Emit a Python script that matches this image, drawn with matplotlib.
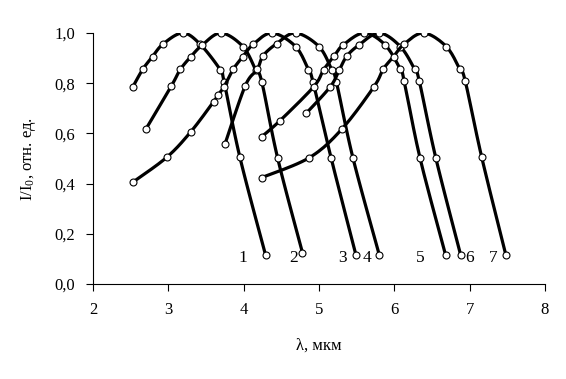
import numpy as np
import matplotlib.pyplot as plt

# wavelength (um) and relative intensity for curves 1..7
lam1 = [2.53, 2.66, 2.79, 2.93, 3.19, 3.42, 3.69, 3.74, 3.95, 4.29]
int1 = [0.786, 0.855, 0.906, 0.956, 1.0, 0.956, 0.853, 0.806, 0.505, 0.116]

lam2 = [2.70, 3.04, 3.16, 3.30, 3.45, 3.70, 3.99, 4.16, 4.24, 4.45, 4.78]
int2 = [0.616, 0.789, 0.855, 0.906, 0.952, 1.0, 0.946, 0.853, 0.806, 0.503, 0.125]

lam3 = [2.53, 2.98, 3.30, 3.60, 3.66, 3.74, 3.86, 3.99, 4.13, 4.38, 4.69, 4.86, 4.92, 5.16, 5.49]
int3 = [0.406, 0.505, 0.607, 0.726, 0.753, 0.786, 0.855, 0.906, 0.956, 1.0, 0.946, 0.853, 0.806, 0.503, 0.116]

lam4 = [3.75, 4.02, 4.18, 4.26, 4.44, 4.69, 5.00, 5.17, 5.23, 5.45, 5.80]
int4 = [0.556, 0.789, 0.855, 0.91, 0.958, 1.0, 0.946, 0.853, 0.806, 0.503, 0.116]

lam5 = [4.24, 4.48, 4.93, 5.06, 5.20, 5.32, 5.60, 5.88, 6.08, 6.13, 6.34, 6.68]
int5 = [0.587, 0.650, 0.786, 0.853, 0.908, 0.952, 1.0, 0.952, 0.855, 0.81, 0.503, 0.116]

lam6 = [4.83, 5.15, 5.27, 5.37, 5.53, 5.80, 6.08, 6.27, 6.33, 6.55, 6.88]
int6 = [0.68, 0.786, 0.853, 0.908, 0.952, 1.0, 0.946, 0.855, 0.81, 0.503, 0.116]

lam7 = [4.24, 4.87, 5.30, 5.73, 5.85, 5.99, 6.13, 6.39, 6.69, 6.87, 6.94, 7.16, 7.48]
int7 = [0.424, 0.503, 0.616, 0.786, 0.855, 0.906, 0.956, 1.0, 0.946, 0.855, 0.81, 0.505, 0.116]

curves = [(lam1, int1), (lam2, int2), (lam3, int3), (lam4, int4),
          (lam5, int5), (lam6, int6), (lam7, int7)]

# curve number labels near the ends
lab_text = ['1', '2', '3', '4', '5', '6', '7']
lab_x = [3.99, 4.66, 5.31, 5.64, 6.34, 7.00, 7.31]
lab_y = [0.105] * 7

xticks = [2, 3, 4, 5, 6, 7, 8]
yticks = [0.0, 0.2, 0.4, 0.6, 0.8, 1.0]
ytick_labels = ['0,0', '0,2', '0,4', '0,6', '0,8', '1,0']


def plotsetting():
    """
    font settings.
    """
    plt.rcParams.update({'font.size': 11.5,
                         'font.family': ['Liberation Serif', 'DejaVu Serif'],
                         'mathtext.fontset': 'custom',
                         'mathtext.rm': 'Liberation Serif',
                         'mathtext.it': 'Liberation Serif'})


def smooth(x, y, n=12):
    """
    Catmull-Rom path through the points (like a smoothed line in a spreadsheet),
    only used for drawing the line, markers stay on the data.
    """
    p = np.column_stack([x, y]).astype(float)
    # stretch y so the smoothing acts in roughly screen-like units
    s = np.array([1.0, 2.0])
    p = p * s
    p = np.vstack([p[0], p, p[-1]])
    out = []
    t = np.linspace(0, 1, n, endpoint=False)[:, None]
    for i in range(1, len(p) - 2):
        p0, p1, p2, p3 = p[i-1], p[i], p[i+1], p[i+2]
        seg = 0.5*((2*p1) + (-p0 + p2)*t + (2*p0 - 5*p1 + 4*p2 - p3)*t**2
                   + (-p0 + 3*p1 - 3*p2 + p3)*t**3)
        out.append(seg)
    out.append(p[-2][None, :])
    out = np.vstack(out) / s
    return out[:, 0], out[:, 1]


plotsetting()
fig = plt.figure(figsize=(5.66, 3.79), dpi=100)
ax = fig.add_axes([93/566, 1 - 284/379, (545 - 93)/566, (284 - 33)/379])

for lam, inten in curves:
    xs, ys = smooth(lam, inten)
    ax.plot(xs, ys, '-', color='black', lw=2.3, solid_capstyle='round')
    ax.plot(lam, inten, 'o', ms=5, mfc='white', mec='black', mew=0.8)

for t, x, y in zip(lab_text, lab_x, lab_y):
    ax.text(x, y, t, ha='center', va='center', fontsize=12.5)

ax.set_xlim(2, 8)
ax.set_ylim(0, 1)
ax.set_xticks(xticks)
ax.set_yticks(yticks)
ax.set_yticklabels(ytick_labels)
ax.spines['top'].set_visible(False)
ax.spines['right'].set_visible(False)
ax.tick_params(direction='out', length=5, width=0.8, pad=8, labelsize=12)
ax.set_xlabel('λ, мкм', labelpad=14, fontsize=12)
ax.set_ylabel(r'I/I$_{\mathrm{0}}$, отн. ед.', labelpad=12, fontsize=12)

plt.savefig('out.png', dpi=100)
